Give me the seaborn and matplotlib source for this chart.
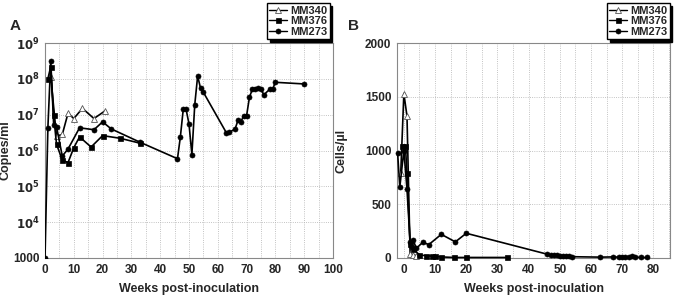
import matplotlib
matplotlib.use("Agg")
import matplotlib.pyplot as plt
from matplotlib.lines import Line2D
from matplotlib.ticker import MultipleLocator, FixedLocator, LogLocator, NullFormatter
import seaborn as sns
import pandas as pd

# ── Panel A: viral load (copies/ml) ──
A_MM340_WEEKS = [2, 4, 6, 8, 10, 13, 17, 21]
A_MM340 = [1.1e8, 2.5e6, 2.8e6, 1.1e7, 7.8e6, 1.5e7, 7.8e6, 1.3e7]

A_MM376_WEEKS = [1, 2, 3, 4, 6, 8, 10, 12, 16, 20, 26, 33]
A_MM376 = [1e8, 2.2e8, 9.5e6, 1.5e6, 5.4e5, 4.6e5, 1.2e6, 2.4e6, 1.25e6, 2.6e6, 2.2e6, 1.6e6]

A_MM273_WEEKS = [0, 1, 2, 3, 4, 6, 8, 12, 17, 20, 23, 33,
                 46, 47, 48, 49, 50, 51, 52, 53, 54, 55,
                 63, 64, 66, 67, 68, 69, 70, 71, 72, 73, 74, 75, 76, 78, 79, 80, 90]
A_MM273 = [1e3, 4.3e6, 3.2e8, 5.3e6, 4.6e6, 7e5, 1.1e6, 4.3e6, 3.8e6, 6.3e6, 4e6, 1.7e6,
           5.9e5, 2.4e6, 1.4e7, 1.4e7, 5.5e6, 7.7e5, 1.9e7, 1.2e8, 5.5e7, 4.2e7,
           3.1e6, 3.2e6, 4e6, 6.9e6, 6.3e6, 9.4e6, 9.4e6, 3.1e7, 5.1e7, 5.1e7, 5.7e7,
           5.1e7, 3.6e7, 5.1e7, 5.1e7, 8e7, 7.2e7]

# ── Panel B: cell counts (cells/µl) ──
B_MM340_WEEKS = [-1, 0, 1, 2, 3, 4]
B_MM340 = [790, 1530, 1320, 40, 30, 20]

B_MM376_WEEKS = [-0.5, 0.5, 1, 2, 3, 5, 7, 9, 10, 12, 16, 20, 33]
B_MM376 = [1040, 1040, 790, 130, 85, 28, 22, 17, 15, 10, 5, 5, 5]

B_MM273_WEEKS = [-2, -1.3, 0, 1, 2, 2.5, 3, 4, 6, 8, 12, 16.5, 20,
                 46, 47, 48, 49, 50, 51, 52, 53, 54,
                 63, 67, 69, 70, 71, 72, 73, 74, 76, 78]
B_MM273 = [975, 660, 1000, 640, 150, 100, 165, 90, 145, 125, 220, 150, 230,
           35, 30, 28, 25, 20, 15, 18, 15, 12,
           8, 10, 8, 6, 8, 10, 20, 10, 5, 5]

SERIES = ['MM340', 'MM376', 'MM273']
STYLE = {
    'MM340': dict(marker='^', markerfacecolor='white', markeredgecolor='#555555',
                  markersize=4, markeredgewidth=0.6),
    'MM376': dict(marker='s', markerfacecolor='black', markeredgecolor='black',
                  markersize=3.6, markeredgewidth=0.5),
    'MM273': dict(marker='o', markerfacecolor='black', markeredgecolor='black',
                  markersize=3.6, markeredgewidth=0.5),
}

sns.set_style("white")
plt.rcParams['font.family'] = ['Liberation Sans', 'DejaVu Sans']
plt.rcParams['font.weight'] = 'bold'
plt.rcParams['mathtext.default'] = 'bf'

fig = plt.figure(figsize=(6.8, 2.98), dpi=100)
axA = fig.add_axes([45 / 680, 1 - 258 / 298, 288 / 680, 215 / 298])
axB = fig.add_axes([397 / 680, 1 - 258 / 298, 273 / 680, 215 / 298])


def draw(ax, data, clip=True):
    for name, (wk, vals) in data.items():
        df = pd.DataFrame({'week': wk, 'val': vals})
        sns.lineplot(data=df, x='week', y='val', ax=ax, color='black', lw=1.2,
                     sort=False, estimator=None, clip_on=clip, zorder=3,
                     **STYLE[name])


def style_axes(ax):
    for sp in ax.spines.values():
        sp.set_color('#888888')
        sp.set_linewidth(0.8)
    ax.tick_params(axis='both', which='major', labelsize=8.5, length=2,
                   color='#888888', pad=2)
    ax.tick_params(axis='both', which='minor', length=1.5, color='#888888')
    for lab in ax.get_xticklabels() + ax.get_yticklabels():
        lab.set_fontweight('bold')
    ax.set_xlabel('Weeks post-inoculation', fontsize=9, fontweight='bold')
    ax.xaxis.set_label_coords(0.5, -0.115)


# ── Panel A ──
draw(axA, {'MM340': (A_MM340_WEEKS, A_MM340),
           'MM376': (A_MM376_WEEKS, A_MM376),
           'MM273': (A_MM273_WEEKS, A_MM273)})
axA.set_yscale('log')
axA.set_ylim(1e3, 1e9)
axA.set_xlim(0, 100)
axA.xaxis.set_major_locator(MultipleLocator(10))
axA.xaxis.set_minor_locator(MultipleLocator(5))
axA.yaxis.set_major_locator(FixedLocator([1e3, 1e4, 1e5, 1e6, 1e7, 1e8, 1e9]))
axA.yaxis.set_minor_locator(LogLocator(base=10, subs=(2, 4, 6, 8), numticks=20))
axA.yaxis.set_minor_formatter(NullFormatter())
axA.set_yticklabels(['1000'] + [r'$\mathbf{10^{%d}}$' % e for e in range(4, 10)])
axA.grid(True, which='major', axis='y', ls=':', lw=0.6, color='#b0b0b0')
axA.grid(True, which='both', axis='x', ls=':', lw=0.6, color='#b0b0b0')
axA.set_ylabel('Copies/ml', fontsize=9, fontweight='bold')
axA.yaxis.set_label_coords(-0.115, 0.5)
style_axes(axA)

# ── Panel B ──
draw(axB, {'MM340': (B_MM340_WEEKS, B_MM340),
           'MM376': (B_MM376_WEEKS, B_MM376),
           'MM273': (B_MM273_WEEKS, B_MM273)}, clip=False)
axB.set_ylim(0, 2000)
axB.set_xlim(-2.2, 85.3)
axB.xaxis.set_major_locator(FixedLocator(range(0, 90, 10)))
axB.xaxis.set_minor_locator(FixedLocator(range(0, 90, 5)))
axB.yaxis.set_major_locator(MultipleLocator(500))
axB.yaxis.set_minor_locator(MultipleLocator(100))
axB.grid(True, which='major', axis='y', ls=':', lw=0.6, color='#b0b0b0')
axB.grid(True, which='both', axis='x', ls=':', lw=0.6, color='#b0b0b0')
axB.set_ylabel('Cells/µl', fontsize=9, fontweight='bold')
axB.yaxis.set_label_coords(-0.18, 0.5)
style_axes(axB)

# ── Legends ──
handles = [Line2D([0], [0], color='black', lw=1.0, **STYLE[s]) for s in SERIES]
for right in (333 / 680, 673 / 680):
    fig.legend(handles, SERIES, loc='upper right', bbox_to_anchor=(right, 1.0),
               fancybox=False, shadow={'color': 'black', 'alpha': 1},
               edgecolor='black', framealpha=1,
               prop={'weight': 'bold', 'size': 8},
               handlelength=1.6, handletextpad=0.3, labelspacing=0.05,
               borderpad=0.2, borderaxespad=0.3)

fig.text(10 / 680, 1 - 26 / 298, 'A', fontsize=11, fontweight='bold',
         ha='left', va='center')
fig.text(348 / 680, 1 - 26 / 298, 'B', fontsize=11, fontweight='bold',
         ha='left', va='center')

fig.savefig('out.png', dpi=100)
